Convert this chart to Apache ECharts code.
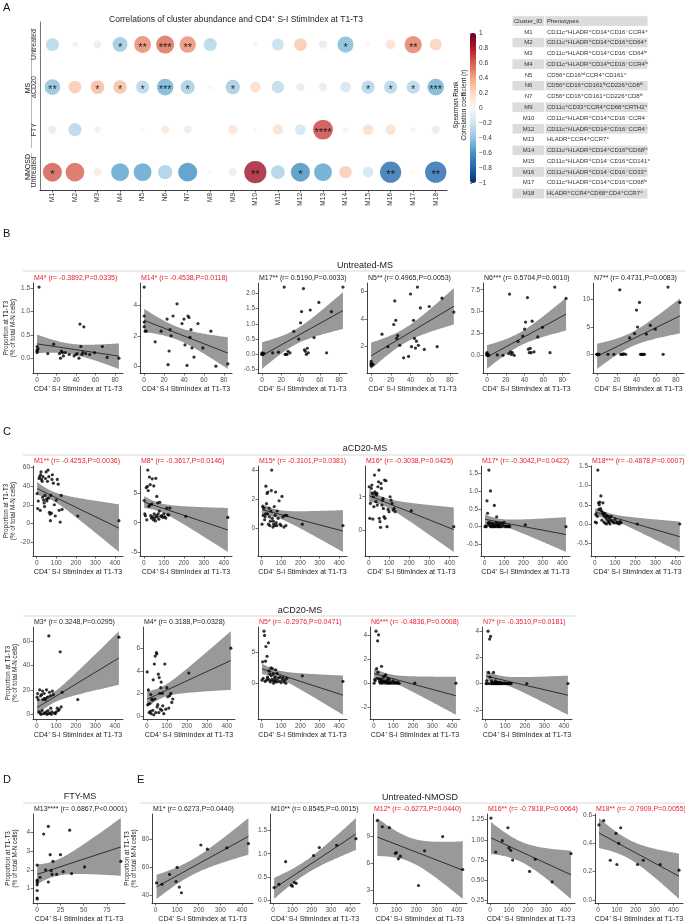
<!DOCTYPE html>
<html><head><meta charset="utf-8">
<script src="https://cdn.jsdelivr.net/npm/echarts@6/dist/echarts.min.js"></script>
<style>html,body{margin:0;padding:0;background:#fff}#c{width:685px;height:924px}</style>
</head><body><div id="c"></div><script>
// ================= DATA =================
// Panel A: bubble matrix
const clusters = ['M1','M2','M3','M4','N5','N6','N7','M8','M9','M10','M11','M12','M13','M14','M15','M16','M17','M18'];
const rowLabels = ['Untreated','aCD20','FTY','Untreated'];
const rUntreatedMS  = [-0.30,-0.05,-0.10,-0.3892,0.4965,0.5704,0.4731,-0.30,null,0.04,-0.25,0.28,-0.12,-0.4538,0.03,0.17,0.5190,0.25];
const rACD20MS      = [-0.4253,0.28,0.3248,0.3188,-0.2976,-0.4836,-0.3510,0.04,-0.3617,0.20,-0.27,-0.12,-0.12,-0.20,-0.3101,-0.3038,-0.3042,-0.4878];
const rFTYMS        = [-0.12,-0.30,-0.08,null,0.02,0.12,-0.10,null,0.15,0.02,0.18,-0.20,0.6867,-0.05,0.20,0.18,0.04,-0.12];
const rUntreatedNMO = [0.6273,0.60,0.10,-0.55,-0.55,-0.35,-0.62,0.03,-0.10,0.8545,-0.33,-0.6273,-0.55,0.27,-0.20,-0.7818,0.02,-0.7909];
const sUntreatedMS  = ['','','','*','**','***','**','','','','','','','*','','','**',''];
const sACD20MS      = ['**','','*','*','*','***','*','','*','','','','','','*','*','*','***'];
const sFTYMS        = ['','','','','','','','','','','','','****','','','','',''];
const sUntreatedNMO = ['*','','','','','','','','','**','','*','','','','**','','**'];
const colorbarTicks = [-1,-0.8,-0.6,-0.4,-0.2,0,0.2,0.4,0.6,0.8,1];

// Table
const tableIds = ['M1','M2','M3','M4','N5','N6','N7','M9','M10','M12','M13','M14','M15','M16','M17','M18'];
const tablePhenotypes = [
 'CD11c⁺HLADR⁺CD14⁺CD16⁻CCR4⁺','CD11c⁺HLADR⁺CD14⁺CD16⁺CD64⁺','CD11c⁺HLADR⁺CD14⁺CD16⁻CD64ˡᵒ',
 'CD11c⁺HLADR⁺CD14ˡᵒCD16⁻CCR4ˡᵒ','CD56⁺CD16ⁱⁿᵗCCR4⁺CD161⁺','CD56⁺CD16⁺CD161ʰⁱCD226⁺CD8ʰⁱ',
 'CD56⁺CD16⁺CD161⁺CD226⁺CD8ʰⁱ','CD11c⁺CD33⁺CCR4⁺CD68⁺CRTH2⁺','CD11c⁺HLADR⁺CD14⁺CD16⁻CCR4⁻',
 'CD11c⁺HLADR⁺CD14⁺CD16⁻CCR4⁻','HLADR⁺CCR4⁺CCR7⁺','CD11c⁺HLADR⁺CD14⁺CD16ʰⁱCD68ʰⁱ',
 'CD11c⁺HLADR⁺CD14⁻CD16⁺CD141⁺','CD11c⁺HLADR⁺CD14⁻CD16⁻CD33⁺','CD11c⁺HLADR⁺CD14⁺CD16⁺CD68ʰⁱ',
 'HLADR⁺CCR4⁺CD68⁺CD4⁺CCR7⁺'];

// Panel B: Untreated-MS
const xUntreatedMS = [0,0,0,0,1,2,11,17,23,24,25,26,27,29,33,38,40,41,43,44,45,46,47,48,50,54,59,67,72,84];
const yU_M4  = [0.25,0.18,0.12,0.15,0.2,1.52,0.1,0.3,0.1,0.0,0.15,0.12,0.05,0.12,0.08,0.05,0.08,0.1,0.0,0.73,0.25,0.08,0.12,0.67,0.1,0.08,0.12,0.25,0.02,0.0];
const yU_M14 = [5.2,3.3,2.9,2.6,2.3,2.3,1.6,2.3,3.1,0.1,1.0,2.4,2.0,3.3,4.1,2.8,3.1,1.4,0.05,3.3,3.2,1.9,2.4,1.2,0.6,2.8,1.2,2.3,0.0,0.15];
const yU_M17 = [0.05,0.0,0.0,0.02,0.0,0.03,0.05,0.07,2.2,0.0,0.0,0.0,0.1,0.05,0.75,0.5,1.03,1.4,2.15,0.15,0.1,0.0,0.2,0.05,1.45,0.55,1.7,0.05,1.4,2.2];
const yU_N5  = [0.95,0.8,0.6,0.7,0.75,0.7,2.9,2.0,3.6,5.3,3.9,2.6,2.8,2.1,1.2,1.3,5.8,2.0,3.9,2.6,1.9,2.4,6.3,2.1,4.8,1.8,4.9,2.0,5.5,4.5];
const yU_N6  = [0.3,0.2,0.1,0.0,0.1,0.0,0.05,0.0,0.2,7.0,0.4,0.1,0.3,0.0,1.6,2.2,3.0,3.8,6.6,0.7,0.3,0.8,0.3,3.9,0.4,2.1,3.2,0.3,7.8,6.5];
const yU_N7  = [0,0,0,0,0,0,0,0,11.8,0,0,0,0.1,0,3.0,3.8,8.1,5.0,9.5,0,0,0,0,0,3.7,5.3,4.6,0,12.3,9.5];
const titlesB = ['M4* (r= -0.3892,P=0.0335)','M14* (r= -0.4538,P=0.0118)','M17** (r= 0.5190,P=0.0033)','N5** (r= 0.4965,P=0.0053)','N6*** (r= 0.5704,P=0.0010)','N7** (r= 0.4731,P=0.0083)'];
const yTicksB = [[0,0.5,1,1.5],[0,2,4],[-0.5,0,0.5,1,1.5,2],[2,4,6],[0,2.5,5,7.5],[0,5,10]];
const xTicksB = [0,20,40,60,80];

// Panel C: aCD20-MS
const xACD20MS = [2,5,8,12,15,18,20,22,25,28,30,32,35,38,40,42,45,48,50,52,55,58,60,62,65,68,70,72,75,78,80,85,90,95,100,105,110,115,120,125,130,210,420];
const yA_M1  = [32,16,24,48,50,14,52,55,47,45,28,50,25,22,18,30,48,55,26,24,45,57,27,50,12,10,3,30,11,47,52,43,20,8,25,47,42,14,1.5,30,15,8,3];
const yA_M8  = [3.8,1.5,1.2,6,0.5,6.2,9,5.5,2.8,7.8,3,6.5,1.2,0.8,3.2,7.5,1.0,0.5,6.3,1.5,0.8,0.3,7.6,1.2,4.5,1.0,3.4,1.5,0.6,2.0,3.5,1.1,1.2,0.9,1.5,1.0,0.8,2.5,1.4,1.3,2.5,1.1,0.9];
const yA_M15 = [0.3,1.5,0.9,1.4,0.6,0.8,1.0,2.9,1.7,2.4,1.0,2.5,0.3,1.4,0.8,0.2,0.5,1.2,2.6,4.0,0.7,0.1,0.5,0.3,1.5,0.2,0.9,2.5,0.4,0.2,1.2,0.7,1.9,0.3,0.2,2.2,0.8,0.1,0.9,0.2,0.9,0.3,0.2];
const yA_M16 = [1.3,0.35,0.8,1.25,1.35,1.1,0.33,1.0,0.7,1.65,1.15,1.1,0.85,1.05,1.1,0.75,1.3,1.45,1.8,0.35,0.25,0.08,1.4,1.25,0.75,0.9,0.95,0.65,0.4,1.5,0.35,1.48,0.1,0.62,0.55,1.0,0.9,0.8,0.6,0.65,0.55,0.58,0.1];
const yA_M17 = [0.0,0.02,0.0,0.73,0.38,0.1,0.05,1.6,0.12,0.02,1.01,0.0,0.08,0.0,0.1,0.03,0.0,0.05,0.6,0.0,0.05,0.12,0.0,0.28,0.05,0.0,0.1,0.02,0.0,0.06,0.0,0.1,0.0,0.05,0.12,0.0,0.02,0.0,0.0,0.03,0.0,0.05,0.0];
const yA_M18 = [0.05,0.25,0.03,0.2,1.4,0.55,0.38,0.5,0.57,0.4,0.73,0.35,0.1,0.3,0.55,0.25,0.05,0.2,0.28,0.02,0.15,0.0,0.22,0.1,0.2,0.05,0.05,0.15,0.0,0.1,0.2,0.08,0.05,0.03,0.12,0.03,0.05,0.02,0.0,0.06,0.03,0.0,0.0];
const yA_M3  = [14,17,12,2,20,1,15,0,16,3,19,12,0.5,17,13,1,12,2,20,0,14,3,0.5,64,18,1,15,5,0,2,19,16,1,0.5,2,5,3,4,51,6,18,12,63];
const yA_M4  = [3.9,1.0,2.3,0.3,1.1,0.4,1.9,0.2,1.5,1.4,0.5,3.2,0.1,4.6,1.5,5.3,0.3,5.6,5.5,0.8,1.0,3.7,0.3,3.4,2.0,0.6,2.5,3.0,0.5,2.0,0.9,0.2,4.6,0.6,2.5,1.7,0.7,1.8,2.0,1.2,1.5,3.8,6.0];
const yA_N5  = [0.5,3.5,0.8,8.5,7.8,0.3,3.6,6.0,0.5,4.4,1.0,0.8,6.6,2.0,0.5,1.5,0.2,2.5,1.2,0.6,2.4,0.4,1.5,0.0,0.8,0.3,1.0,2.2,0.5,0.2,1.6,0.8,0.3,1.0,0.1,0.5,0.9,0.2,0.5,0.0,0.8,1.2,0.3];
const yA_N6  = [0.0,0.3,0.2,4.3,1.2,0.4,3.5,0.9,4.0,0.3,0.1,0.35,0.0,0.2,1.4,0.3,0.0,0.15,0.5,0.1,0.6,0.2,0.0,0.7,0.1,0.2,0.0,0.4,0.1,0.0,0.3,0.0,0.1,0.0,0.2,0.0,0.05,0.0,0.1,0.0,0.0,0.0,0.0];
const yA_N7  = [0.0,0.2,0.0,4.0,0.85,0.0,3.4,0.5,3.6,0.0,0.2,0.0,0.1,0.0,0.85,0.0,0.05,0.0,0.2,0.0,0.1,0.0,0.0,0.1,0.0,0.05,0.0,0.1,0.0,0.0,0.05,0.0,0.0,0.05,0.0,0.0,0.0,0.0,0.0,0.0,0.0,0.0,0.0];
const titlesC1 = ['M1** (r= -0.4253,P=0.0036)','M8* (r= -0.3617,P=0.0146)','M15* (r= -0.3101,P=0.0381)','M16* (r= -0.3038,P=0.0425)','M17* (r= -0.3042,P=0.0422)','M18*** (r= -0.4878,P=0.0007)'];
const yTicksC1 = [[-20,0,20,40,60],[-5,0,5],[0,2,4],[0,1],[-0.5,0,0.5,1,1.5],[-0.5,0,0.5,1,1.5]];
const titlesC2 = ['M3* (r= 0.3248,P=0.0295)','M4* (r= 0.3188,P=0.0328)','N5* (r= -0.2976,P=0.0471)','N6*** (r= -0.4836,P=0.0008)','N7* (r= -0.3510,P=0.0181)'];
const yTicksC2 = [[0,20,40,60],[0,2,4,6,8],[0,5],[-2,0,2,4],[-2,0,2,4]];
const xTicksC = [0,100,200,300,400];

// Panel D: FTY-MS
const xFTYMS = [0,0,0,0,0,0,0,0,3,7,9,12,12,14,15,16,17,21,25,28,35,37,51,90];
const yF_M13 = [0.45,0.5,0.9,1.2,1.3,1.4,1.45,2.25,1.6,3.9,2.0,4.3,1.35,2.8,1.95,1.75,2.45,1.75,2.8,1.9,4.1,1.8,2.15,2.45];
const titlesD = ['M13**** (r= 0.6867,P<0.0001)'];
const yTicksD = [[1,2,3,4,5]];
const xTicksD = [0,25,50,75];

// Panel E: Untreated-NMOSD
const xNMOSD = [5,30,65,95,100,110,120,210,240,330,430];
const yN_M1  = [49,48,55,50,60,46,42,76,73,74,77];
const yN_M10 = [0.28,0.35,0.83,0.33,0.31,0.39,0.37,0.96,1.13,1.18,1.32];
const yN_M12 = [10.8,10.1,10.0,7.1,7.2,6.5,6.8,3.5,7.4,9.0,5.3];
const yN_M16 = [1.27,0.85,0.99,1.15,0.9,0.87,0.75,0.61,0.76,0.48,0.83];
const yN_M18 = [0.53,0.56,0.28,0.47,0.25,0.40,0.51,0.25,0.28,0.25,0.21];
const titlesE = ['M1* (r= 0.6273,P=0.0440)','M10** (r= 0.8545,P=0.0015)','M12* (r= -0.6273,P=0.0440)','M16** (r= -0.7818,P=0.0064)','M18** (r= -0.7909,P=0.0055)'];
const yTicksE = [[40,60,80],[0,0.5,1,1.5],[3,6,9],[0.25,0.5,0.75,1,1.25],[0,0.2,0.4,0.6]];

// ================= LAYOUT / STYLE =================
const FONT = 'Liberation Sans, Arial, Helvetica, sans-serif';
const RED = '#e8202a';
const layoutB  = {top:283, bottom:373, lefts:[33,140,258,367,483,593], rights:[123,232,347,458,570,684]};
const layoutC1 = {top:466, bottom:556, lefts:[33,140,258,365,481,591], rights:[123,232,347,458,570,684]};
const layoutC2 = {top:627, bottom:719, lefts:[33,143,258,370,482], rights:[123,235,347,460,572]};
const layoutD  = {top:814, bottom:903, lefts:[33], rights:[125]};
const layoutE  = {top:814, bottom:903, lefts:[152,270,373,487,595], rights:[253,360,467,575,683]};
const X_NAME = 'CD4⁺ S-I StimIndex at T1-T3';
const Y_NAME = 'Proportion at T1-T3\n(% of total M-N cells)';

// ================= HELPERS =================
function tq(df){const z=1.959964,z3=z*z*z,z5=z3*z*z,z7=z5*z*z;
  return z+(z3+z)/(4*df)+(5*z5+16*z3+3*z)/(96*df*df)+(3*z7+19*z5+17*z3-15*z)/(384*df*df*df);}
function fitLM(xs,ys){
  const n=xs.length; let mx=0,my=0; for(let i=0;i<n;i++){mx+=xs[i];my+=ys[i];} mx/=n; my/=n;
  let sxx=0,sxy=0; for(let i=0;i<n;i++){sxx+=(xs[i]-mx)**2; sxy+=(xs[i]-mx)*(ys[i]-my);}
  const b=sxy/sxx, a=my-b*mx; let sse=0; for(let i=0;i<n;i++){sse+=(ys[i]-a-b*xs[i])**2;}
  const s=Math.sqrt(sse/(n-2)), t=tq(n-2);
  const x0=Math.min(...xs), x1=Math.max(...xs); const lo=[],hi=[];
  for(let k=0;k<80;k++){const x=x0+(x1-x0)*k/79; const yh=a+b*x; const se=s*Math.sqrt(1/n+(x-mx)**2/sxx);
    lo.push([x,yh-t*se]); hi.push([x,yh+t*se]);}
  return {a,b,x0,x1,lo,hi};
}
function decimals(arr){let d=0; arr.forEach(v=>{const s=String(v); const i=s.indexOf('.'); if(i>=0) d=Math.max(d,s.length-i-1);}); return d;}

const panels=[];
function addRow(layout, xs, ysList, titles, yTicksList, xTicks){
  ysList.forEach((ys,i)=>panels.push({left:layout.lefts[i], right:layout.rights[i], top:layout.top, bottom:layout.bottom,
    xs, ys, title:titles[i], yTicks:yTicksList[i], xTicks, yName:i===0}));
}
addRow(layoutB, xUntreatedMS, [yU_M4,yU_M14,yU_M17,yU_N5,yU_N6,yU_N7], titlesB, yTicksB, xTicksB);
addRow(layoutC1, xACD20MS, [yA_M1,yA_M8,yA_M15,yA_M16,yA_M17,yA_M18], titlesC1, yTicksC1, xTicksC);
addRow(layoutC2, xACD20MS, [yA_M3,yA_M4,yA_N5,yA_N6,yA_N7], titlesC2, yTicksC2, xTicksC);
addRow(layoutD, xFTYMS, [yF_M13], titlesD, yTicksD, xTicksD);
addRow(layoutE, xNMOSD, [yN_M1,yN_M10,yN_M12,yN_M16,yN_M18], titlesE, yTicksE, xTicksC);

// ================= OPTION =================
const grid=[], xAxis=[], yAxis=[], series=[], title=[];
const axisBase = {type:'value', splitLine:{show:false},
  axisLine:{show:true,onZero:false,lineStyle:{color:'#111',width:0.8}}};

// Panel A bubble grid (index 0)
grid.push({left:40, top:22, width:407, height:168, containLabel:false, outerBoundsMode:'none'});
const colIdx = clusters.map((c,i)=>i+1);
xAxis.push(Object.assign({}, axisBase, {gridIndex:0, min:0.45, max:18.5,
  axisTick:{show:true,length:2.5,customValues:colIdx,lineStyle:{color:'#333',width:0.7}},
  axisLabel:{customValues:colIdx, formatter:v=>clusters[Math.round(v)-1], rotate:90, fontSize:6.5, color:'#333', margin:3, fontFamily:FONT}}));
yAxis.push(Object.assign({}, axisBase, {gridIndex:0, min:0.47, max:4.42, inverse:true,
  axisLine:{show:true,onZero:false,lineStyle:{color:'#555',width:0.8}},
  axisTick:{show:false},
  axisLabel:{customValues:[1,2,3,4], formatter:v=>rowLabels[Math.round(v)-1], rotate:90, fontSize:7, color:'#333', margin:2, fontFamily:FONT}}));
const bubbleData=[];
[[rUntreatedMS,sUntreatedMS],[rACD20MS,sACD20MS],[rFTYMS,sFTYMS],[rUntreatedNMO,sUntreatedNMO]].forEach((rs,ri)=>{
  rs[0].forEach((r,ci)=>{ if(r!==null) bubbleData.push([ci+1, ri+1, r, rs[1][ci]]); });
});
series.push({type:'scatter', xAxisIndex:0, yAxisIndex:0, data:bubbleData, silent:true,
  symbolSize:v=>24*Math.sqrt(Math.abs(v[2])),
  label:{show:true, position:'inside', formatter:p=>p.value[3], color:'#000', fontSize:11, offset:[0,3], fontFamily:FONT}});

// colorbar tick axis (grid 1)
grid.push({left:470, top:33, width:6, height:150, containLabel:false, outerBoundsMode:'none'});
xAxis.push({gridIndex:1, type:'value', show:false});
yAxis.push({gridIndex:1, type:'value', min:-1, max:1, position:'right', splitLine:{show:false},
  axisLine:{show:false}, axisTick:{show:true, length:2, customValues:colorbarTicks, lineStyle:{color:'#333',width:0.6}},
  axisLabel:{customValues:colorbarTicks, formatter:v=>String(v).replace('-','−'), fontSize:6.5, color:'#333', margin:3, fontFamily:FONT}});

// scatter panels
panels.forEach((p,k)=>{
  const g=k+2;
  const f=fitLM(p.xs,p.ys);
  const xr=f.x1-f.x0; const xlo=f.x0-0.05*xr, xhi=f.x1+0.05*xr;
  let ymin=Math.min(...p.ys, ...f.lo.map(d=>d[1])), ymax=Math.max(...p.ys, ...f.hi.map(d=>d[1]));
  const yr=ymax-ymin; const ylo=ymin-0.05*yr, yhi=ymax+0.05*yr;
  const xt=p.xTicks.filter(v=>v>=xlo&&v<=xhi), yt=p.yTicks.filter(v=>v>=ylo&&v<=yhi);
  const xd=decimals(p.xTicks), yd=decimals(p.yTicks);
  grid.push({left:p.left, top:p.top, width:p.right-p.left, height:p.bottom-p.top, containLabel:false, outerBoundsMode:'none'});
  xAxis.push(Object.assign({}, axisBase, {gridIndex:g, min:xlo, max:xhi,
    axisTick:{show:true,length:2.5,customValues:xt,lineStyle:{color:'#333',width:0.7}},
    axisLabel:{customValues:xt, formatter:v=>v.toFixed(xd), fontSize:6.5, color:'#4d4d4d', margin:3.5, fontFamily:FONT},
    name:X_NAME, nameLocation:'middle', nameGap:13, nameTextStyle:{fontSize:7, color:'#222', fontFamily:FONT}}));
  const ya = Object.assign({}, axisBase, {gridIndex:g, min:ylo, max:yhi,
    axisTick:{show:true,length:2.5,customValues:yt,lineStyle:{color:'#333',width:0.7}},
    axisLabel:{customValues:yt, formatter:v=>v.toFixed(yd), fontSize:6.5, color:'#4d4d4d', margin:3, fontFamily:FONT}});
  if(p.yName){ Object.assign(ya,{name:Y_NAME, nameLocation:'middle', nameGap:14, nameRotate:90,
    nameTextStyle:{fontSize:6.3, lineHeight:7, color:'#222', fontFamily:FONT, align:'center'}}); }
  yAxis.push(ya);
  const poly = f.hi.concat(f.lo.slice().reverse());
  series.push({type:'custom', xAxisIndex:g, yAxisIndex:g, data:[[f.x0, f.a+f.b*f.x0]], silent:true, z:1,
    renderItem:(params,api)=>{
      const pts = poly.map(d=>api.coord(d));
      const cs = params.coordSys;
      const clipped = echarts.graphic.clipPointsByRect(pts, {x:cs.x, y:cs.y, width:cs.width, height:cs.height});
      return {type:'polygon', shape:{points:clipped}, style:{fill:'#999999'}};
    }});
  series.push({type:'line', xAxisIndex:g, yAxisIndex:g, silent:true, z:3, showSymbol:false,
    data:[[f.x0,f.a+f.b*f.x0],[f.x1,f.a+f.b*f.x1]], lineStyle:{color:'#222',width:0.9}});
  series.push({type:'scatter', xAxisIndex:g, yAxisIndex:g, silent:true, z:4, symbolSize:3.2,
    itemStyle:{color:'#000'}, data:p.xs.map((x,i)=>[x,p.ys[i]])});
  title.push({text:p.title, left:p.left+1, top:p.top-8, padding:0,
    textStyle:{fontSize:7, fontWeight:'normal', color:/r= -/.test(p.title)?RED:'#222', fontFamily:FONT}});
});

// graphics: letters, strip titles, group labels, table
const graphic=[];
const txt=(x,y,text,o)=>graphic.push(Object.assign({type:'text', x, y, silent:true,
  style:Object.assign({text, fill:'#111', fontSize:7, fontFamily:FONT, align:'left', verticalAlign:'middle'}, (o&&o.style)||{})},
  o&&o.rotation?{rotation:o.rotation}:{}));
[['A',3,8],['B',3,234],['C',3,432],['D',3,780],['E',137,780]].forEach(d=>txt(d[1],d[2],d[0],{style:{fontSize:11}}));
txt(236,20,'Correlations of cluster abundance and CD4⁺ S-I StimIndex at T1-T3',{style:{fontSize:8.5,align:'center',fill:'#222'}});
txt(28,88,'MS',{rotation:Math.PI/2,style:{align:'center',fontSize:7}});
txt(28,167,'NMOSD',{rotation:Math.PI/2,style:{align:'center',fontSize:7}});
graphic.push({type:'line', silent:true, shape:{x1:31.5,y1:28,x2:31.5,y2:148}, style:{stroke:'#aaa',lineWidth:0.8}});
graphic.push({type:'line', silent:true, shape:{x1:31.5,y1:153,x2:31.5,y2:188}, style:{stroke:'#aaa',lineWidth:0.8}});
txt(460,105,'Spearman Rank\nCorrelation coefficient (r)',{rotation:Math.PI/2,style:{align:'center',fontSize:6.5,lineHeight:7.5}});
// strips
[['Untreated-MS',365,266,271,23,685],['aCD20-MS',365,449,455,23,685],['aCD20-MS',300,611,616,23,575],
 ['FTY-MS',80,797,803,23,127],['Untreated-NMOSD',420,798,803,140,685]].forEach(s=>{
  graphic.push({type:'rect', silent:true, shape:{x:s[4],y:s[3]-1,width:s[5]-s[4],height:2}, style:{fill:'#ececec'}});
  txt(s[1],s[2],s[0],{style:{align:'center',fontSize:9,fill:'#222'}});
});
// table
const tX=512, tW1=33, tW2=103, tTop=15.7, tRH=10.78;
const rows=[['Cluster_ID','Phenotypes']].concat(tableIds.map((id,i)=>[id,tablePhenotypes[i]]));
rows.forEach((r,i)=>{
  const y=tTop+i*tRH; const fill=i%2===0?'#dcdcdc':'#ffffff';
  graphic.push({type:'rect', silent:true, shape:{x:tX,y,width:tW1,height:tRH}, style:{fill, stroke:'#fff', lineWidth:1}});
  graphic.push({type:'rect', silent:true, shape:{x:tX+tW1,y,width:tW2,height:tRH}, style:{fill, stroke:'#fff', lineWidth:1}});
  txt(i===0?tX+2:tX+tW1/2, y+tRH/2, r[0], {style:{align:i===0?'left':'center', fontSize:6, fill:'#333'}});
  txt(tX+tW1+2, y+tRH/2, r[1], {style:{fontSize:6, fill:'#333', fontFamily:'Liberation Sans, DejaVu Sans, sans-serif'}});
});

const option = {
  animation:false, backgroundColor:'#fff',
  title, grid, xAxis, yAxis, series, graphic,
  visualMap:{type:'continuous', show:true, seriesIndex:0, dimension:2, min:-1, max:1, left:470, top:33,
    itemWidth:6, itemHeight:150, padding:0, calculable:false, hoverLink:false, text:null, showLabel:false,
    inRange:{color:['#053061','#2166ac','#4393c3','#92c5de','#d1e5f0','#f7f7f7','#fddbc7','#f4a582','#d6604d','#b2182b','#67001f']}}
};
const chart = echarts.init(document.getElementById('c'), null, {renderer:'canvas'});
chart.setOption(option);
</script></body></html>
